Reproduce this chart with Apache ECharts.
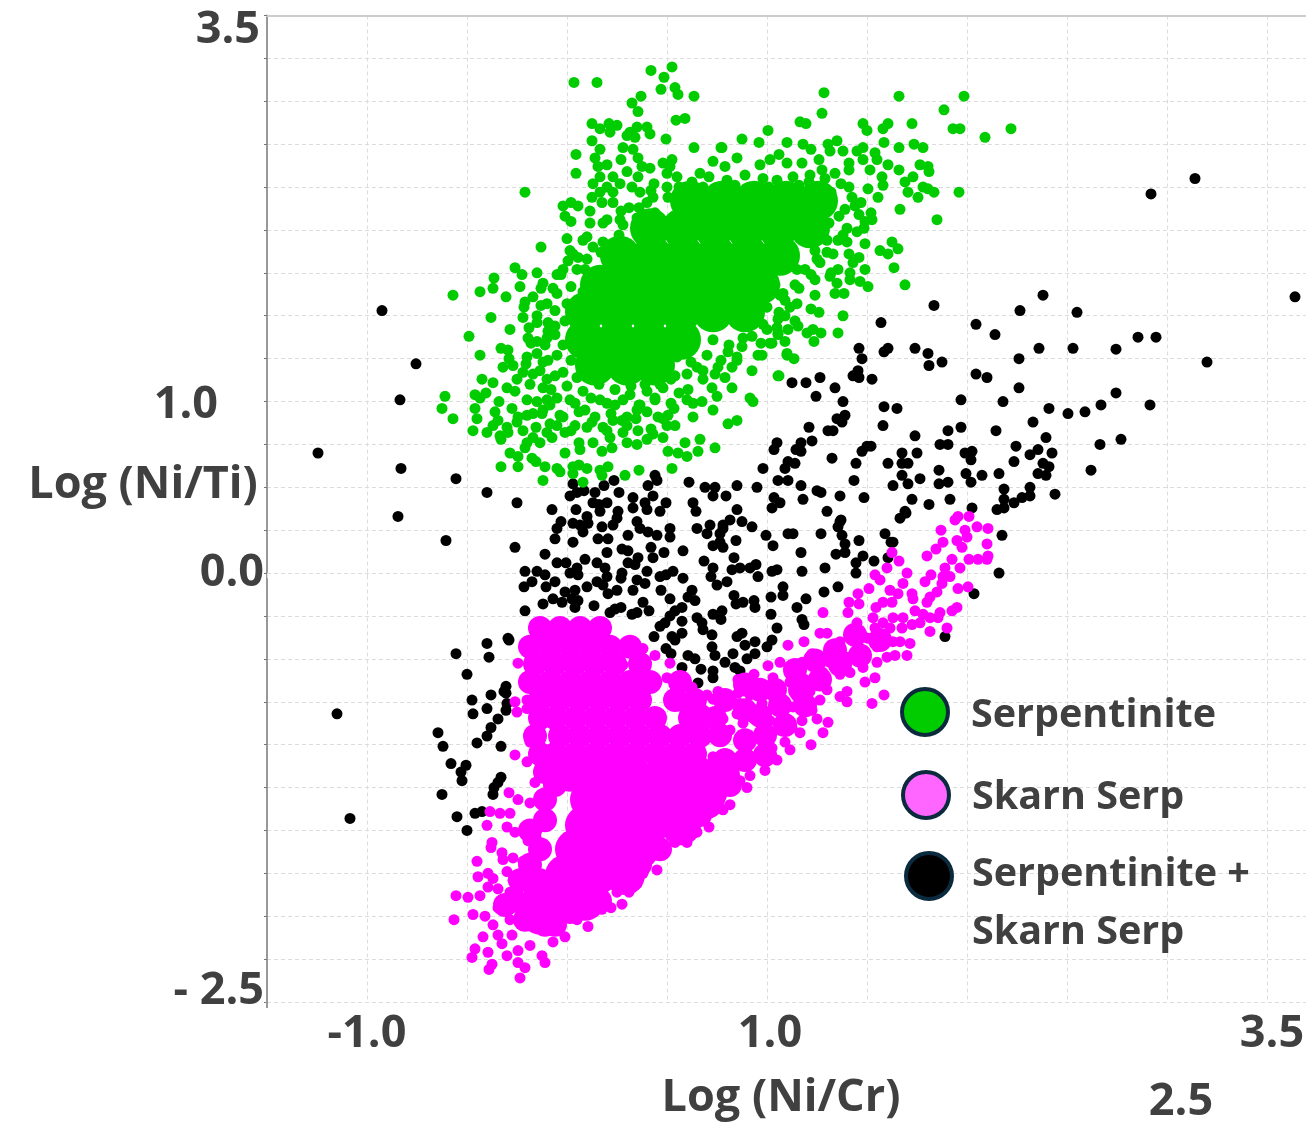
<!DOCTYPE html>
<html><head><meta charset="utf-8"><style>html,body{margin:0;padding:0;background:#fff}#c{width:1306px;height:1124px}</style>
<script src="https://cdn.jsdelivr.net/npm/echarts@6/dist/echarts.min.js"></script></head><body><div id="c"></div>
<script>
const xTickValues=[-1,1,3.5], xTickLabels=['-1.0','1.0','3.5'];
const yTickValues=[-2.5,0,1,3.25], yTickLabels=['- 2.5','0.0','1.0','3.5'];
const seriesNames=['Serpentinite','Skarn Serp','Serpentinite + Skarn Serp'];
const mixed=[[-.925,1.53],[-.755,1.22],[-.835,1.01],[-1.245,.7],[-.83,.61],[-.845,.33],[-.605,.19],[-.555,.55],[-.4,.47],[-1.15,-.82],[-1.085,-1.43],[2.92,2.21],[3.14,2.3],[3.64,1.61],[3.2,1.23],[2.855,1.375],[2.945,1.375],[2.915,.98],[2.745,1.305],[2.745,1.05],[2.67,.98],[2.59,.94],[2.62,.6],[2.665,.75],[2.77,.78],
[1.835,1.56],[2.38,1.62],[2.265,1.53],[2.55,1.52],[1.57,1.46],[2.045,1.45],[2.14,1.39],[1.46,1.31],[1.585,1.29],[1.605,1.31],[1.74,1.31],[1.805,1.28],[1.875,1.23],[1.81,1.21],[1.475,1.25],[1.455,1.18],[1.43,1.15],[1.46,1.14],[1.525,1.13],[2.36,1.31],[2.26,1.25],[2.53,1.31],[2.045,1.16],[2.1,1.14],[2.26,1.08],[1.125,1.11],[1.195,1.11],[1.265,1.14],[1.34,1.08],[1.245,1.03],[1.38,1],[1.585,.97],[1.65,.96],[1.97,1.01],[2.18,1],[2.41,.96],[2.505,.93],[2.33,.88],[2.145,.83],[1.39,.92],[1.35,.9],[1.375,.88],[1.21,.85],[1.58,.86],[1.305,.83],[1.33,.83],[1.97,.85],[1.905,.83],[1.74,.8],[2.395,.79],[1.05,.76],[1.035,.72],[1.225,.77],[1.17,.76],[1.145,.72],[1.17,.71],[1.52,.74],[1.5,.74],[1.475,.71],[1.865,.75],[1.905,.75],[2.245,.74],[2.355,.72],[2.425,.7],[2.315,.69],[1.675,.7],[1.75,.7],[1.99,.7],[2.025,.71],[2.02,.66],[1.325,.67],[1.445,.64],[1.605,.64],[1.675,.64],[1.705,.64],[2.235,.65],[2.38,.64],[2.41,.62],[1.105,.65],[1.14,.64],[1.09,.61],[.98,.61],[1.86,.6],[1.995,.58],[2.075,.57],[2.16,.58],[2.355,.58],[2.395,.57],[1.675,.57],[1.765,.55],[1.435,.54],[1.105,.54],[1.055,.54],[1.705,.52],[1.86,.52],[1.905,.53],[2.02,.53],[1.63,.51],[1.17,.51],[1.25,.48],[1.27,.47],[1.365,.45],[1.485,.44],[2.185,.49],[2.315,.5],[2.315,.45],[2.275,.44],[2.44,.46],[1.035,.44],[1.065,.41],[1.025,.38],[1.18,.43],[1.725,.43],[1.81,.4],[1.915,.43],[2.025,.38],[2.185,.43],[2.235,.41],[2.185,.38],[2.15,.37],[1.3,.36],[1.69,.36],[1.665,.32],[1.37,.31],
[.44,.57],[.45,.54],[.61,.53],[.235,.54],[.185,.51],[.03,.52],[.015,.45],[.05,.47],[.085,.48],[.14,.47],[.26,.47],[.33,.44],[.405,.51],[.43,.45],[.39,.41],[.69,.5],[.74,.5],[.73,.45],[.795,.45],[.85,.51],[.95,.5],[-.25,.41],[-.075,.37],[.045,.37],[.13,.41],[.16,.4],[.2,.41],[.165,.36],[.255,.36],[.33,.38],[.25,.32],[.4,.37],[.465,.36],[.495,.41],[.63,.41],[.645,.36],[.85,.37],[.815,.31],[.875,.3],[.925,.27],[.78,.28],[.715,.28],[.65,.26],[.7,.23],[.765,.23],[.78,.26],[.765,.18],[.73,.16],[.78,.15],[.845,.19],[.995,.22],[1.03,.16],[1.105,.23],[1.13,.23],[1.17,.12],[.1,.33],[.03,.29],[.065,.28],[.105,.29],[.08,.24],[-.03,.3],[-.05,.26],[-.06,.2],[.03,.18],[.175,.27],[.23,.28],[.305,.22],[.35,.3],[.365,.26],[.405,.24],[.45,.22],[.515,.26],[.515,.21],[.155,.2],[.205,.2],[.2,.12],[.275,.14],[.305,.13],[.42,.15],[.485,.12],[.43,.09],[.58,.13],[-.11,.11],[-.26,.15],[-.05,.06],[-.005,.06],[.09,.08],[.15,.06],[.19,.03],[.05,.03],[.015,0],[.055,-.01],[-.21,.01],[-.15,.01],[-.11,-.01],[-.175,-.05],[-.215,-.08],[-.105,-.08],[-.06,-.05],[.1,-.08],[.15,-.05],[.2,-.02],[.18,-.07],[.275,0],[.27,-.03],[.305,.06],[.355,.09],[.4,.01],[.34,.05],[.35,-.04],[.39,-.06],[.33,-.1],[.465,-.02],[.53,.01],[.495,-.01],[.58,-.03],[.47,-.1],[.625,-.1],[.515,-.15],[.605,-.14],[.64,-.16],[.685,.07],[.73,.03],[.72,-.02],[.75,-.07],[.8,-.05],[.825,.02],[.835,.09],[.865,.03],[.915,.03],[.945,.05],[.955,-.02],[1.025,.01],[1.05,.02],[1.175,.01],[1.08,-.08],[1.08,-.13],[1.02,-.14],[.835,-.13],[.845,-.18],[.88,-.17],[.935,-.16],[.94,-.2],[1.15,-.2],[1.195,-.15],[1.02,-.24],[1.175,-.27],[1.185,-.3],[1.05,-.32],[-.07,-.15],[-.01,-.11],[.04,-.1],[.025,-.15],[.055,-.16],[-.025,-.17],[.04,-.2],[-.12,-.18],[-.21,-.22],[.135,-.19],[.205,-.12],[.25,-.1],[.215,-.23],[.24,-.21],[.27,-.2],[.325,-.24],[.35,-.23],[.38,-.17],[.41,-.22],[.575,-.2],[.54,-.22],[.515,-.25],[.49,-.29],[.465,-.31],[.435,-.37],[.575,-.28],[.575,-.35],[.525,-.37],[.54,-.39],[.495,-.44],[.52,-.47],[.65,-.26],[.675,-.29],[.68,-.33],[.725,-.36],[.73,-.24],[.775,-.22],[.77,-.27],[.875,-.35],[.85,-.37],[.89,-.42],[.94,-.4],[.94,-.47],[1.025,-.39],[1,-.43],[.725,-.43],[.74,-.48],[.83,-.47],[.79,-.52],[.9,-.5],[.84,-.55],[.865,-.57],[.605,-.48],[.64,-.5],[.575,-.55],[.67,-.56],[.73,-.57],[.73,-.61],[.655,-.64],[-.295,-.38],[-.305,-.66],[-.305,-.7],
[-.555,-.47],[-.4,-.41],[-.29,-.39],[-.39,-.49],[-.5,-.59],[-.315,-.69],[-.38,-.71],[-.475,-.74],[-.4,-.79],[-.47,-.82],[-.3,-.76],[-.305,-.8],[-.345,-.85],[-.38,-.9],[-.4,-.95],[-.45,-.99],[-.33,-1.01],[-.645,-.93],[-.62,-1.01],[-.58,-1.11],[-.505,-1.12],[-.53,-1.16],[-.525,-1.21],[-.33,-1.19],[-.345,-1.22],[-.365,-1.25],[-.37,-1.29],[-.625,-1.29],[-.55,-1.42],[-.5,-1.5],[-.46,-1.4],[-.425,-1.39],
[1.365,.3],[1.355,.27],[1.375,.22],[1.39,.17],[1.39,.12],[1.345,.11],[1.46,.19],[1.445,.06],[1.48,.1],[1.535,.07],[1.445,0],[1.355,-.08],[1.285,-.11],[1.29,.03],[1.27,.23],[1.695,.35],[1.59,.23],[1.62,.18],[1.63,.18],[1.605,.09],[2.175,.22],[2.16,0],[2.035,-.12],[1.89,-.37]];
const serpentinite=[[.035,2.86],[.15,2.86],[.42,2.93],[.525,2.95],[.485,2.89],[.47,2.82],[.54,2.83],[.555,2.79],[.635,2.78],[.37,2.78],[.325,2.74],[.355,2.69],[.545,2.64],[.59,2.65],[.125,2.62],[.165,2.59],[.21,2.62],[.215,2.57],[.25,2.61],[.35,2.6],[.4,2.6],[.415,2.56],[.315,2.57],[.3,2.55],[.34,2.54],[.125,2.52],[.495,2.53],[.635,2.48],[.77,2.48],[.165,2.47],[.28,2.48],[.33,2.47],[.045,2.44],[.14,2.42],[.27,2.41],[.355,2.42],[.525,2.41],[.48,2.39],[.73,2.4],[.79,2.37],[.155,2.37],[.2,2.38],[.375,2.37],[.415,2.36],[.515,2.37],[.045,2.33],[.5,2.33],[.665,2.33],[.55,2.31],[.165,2.31],[.23,2.31],[.3,2.34],[.355,2.31],[.435,2.27],[.625,2.28],[.13,2.27],[.2,2.25],[.265,2.27],[.325,2.25],[.56,2.25],[-.21,2.22],[.365,2.22],[.165,2.22],[.23,2.22],[.125,2.19],[.43,2.19],[.505,2.19],[-.02,2.14],[.02,2.16],[.055,2.14],[.175,2.16],[.23,2.16],[.31,2.13],[.4,2.16],[.115,2.11],[-.01,2.08],[.02,2.05],[.115,2.04],[.18,2.04],[.265,2.06],[0,1.95],[-.13,1.9],[.08,1.94],[.13,1.9],[.015,1.88],[.055,1.84],[.005,1.82],[-.26,1.78],[-.15,1.75],[-.02,1.77],[.09,1.77],
[1.285,2.8],[1.66,2.78],[1.985,2.78],[1.275,2.68],[1.885,2.7],[1.005,2.58],[1.165,2.63],[1.195,2.62],[1.48,2.62],[1.5,2.58],[1.605,2.62],[1.58,2.59],[1.725,2.62],[1.93,2.59],[1.965,2.59],[2.09,2.54],[2.22,2.59],[.875,2.53],[.96,2.51],[1.1,2.51],[.775,2.48],[1.18,2.5],[1.22,2.47],[1.35,2.52],[1.305,2.5],[1.315,2.46],[1.38,2.46],[1.585,2.51],[1.66,2.48],[1.735,2.5],[1.78,2.48],[1.48,2.48],[1.45,2.46],[1.54,2.45],[1.06,2.44],[.85,2.42],[.965,2.38],[1.015,2.41],[1.1,2.39],[1.175,2.39],[1.26,2.41],[1.275,2.35],[1.41,2.39],[1.41,2.35],[1.48,2.41],[1.55,2.41],[1.605,2.38],[1.66,2.35],[1.765,2.38],[1.805,2.37],[1.81,2.34],[1.34,2.33],[1.515,2.35],[1.215,2.32],[1.73,2.31],[1.69,2.28],[1.575,2.31],[1.58,2.26],[1.505,2.24],[1.78,2.25],[1.805,2.24],[1.835,2.22],[1.705,2.22],[1.96,2.22],[1.555,2.19],[1.755,2.19],[1.425,2.19],[1.47,2.16],[1.665,2.12],[1.85,2.06],[1.46,2.09],[1.52,2.1],[1.525,2.06],[1.49,2.05],[1.4,2.01],[1.45,1.99],[1.485,2.01],[1.4,1.93],[1.49,1.92],[1.625,1.93],[1.655,1.89],[1.565,1.88],[1.605,1.86],[1.41,1.86],[1.46,1.84],[1.43,1.81],[1.635,1.78],[1.49,1.77],[1.32,1.75],[1.355,1.77],[1.315,1.73],[1.415,1.75],[1.69,1.68],[1.465,1.7],[1.505,1.67],[1.35,1.69],[1.34,1.63],[1.385,1.63],[1.415,1.71],[1.265,1.81],[1.3,1.87],[1.39,2.12],[1.355,1.94],[1.24,1.88],[1.19,1.77],[1.14,1.68],[1.24,1.71],[1.09,1.59],[1.04,1.68],
[-.57,1.62],[-.435,1.64],[-.37,1.66],[-.365,1.72],[-.305,1.61],[-.225,1.74],[-.235,1.67],[-.12,1.69],[-.21,1.58],[-.17,1.61],[-.215,1.55],[-.22,1.49],[-.38,1.49],[-.15,1.5],[-.1,1.57],[-.07,1.66],[-.05,1.74],[-.095,1.46],[-.095,1.41],[-.06,1.39],[-.285,1.42],[-.19,1.43],[-.195,1.37],[-.49,1.38],[-.15,1.35],[-.33,1.31],[-.295,1.3],[-.435,1.27],[-.29,1.25],[-.32,1.2],[-.27,1.21],[-.205,1.22],[-.15,1.28],[-.22,1.17],[-.425,1.13],[-.37,1.11],[-.25,1.13],[-.3,1.08],[-.26,1.06],[-.46,1.04],[-.405,1.05],[-.435,1.02],[-.61,1.03],[-.34,1],[-.12,1.08],[-.2,1.01],[-.625,.96],[-.46,.96],[-.57,.9],[-.36,.94],[-.275,.96],[-.45,.9],[-.345,.89],[-.245,.91],[-.17,.93],[-.125,.93],[-.1,1.01],[-.47,.83],[-.37,.86],[-.25,.88],[-.155,.85],[-.085,.87],[-.4,.82],[-.335,.8],[-.295,.82],[-.33,.78],[-.17,.79],[-.1,.82],[-.2,.76],[-.135,.76],[-.075,.79],[-.01,.82],[-.285,.7],[-.245,.68],[-.175,.67],[-.155,.65],[-.21,.73],[-.01,.7],[-.33,.62],[-.245,.62],[-.11,.62],[-.05,.61],[-.035,.59],[-.12,.54],[.03,.62],[.06,.63],[.1,.61],[.03,.58],[.08,.53],[.165,.6],[.205,.62],[.175,.57],[.29,.57],[.36,.6],[.525,.61],[.06,.76],[.065,.72],[.13,.76],[.175,.71],[.225,.73],[.215,.79],[.28,.82],[.3,.76],[.35,.75],[.4,.78],[.43,.81],[.48,.79],[.35,.95],[.345,.9],[.355,.83],[.275,.89],[.18,.85],[.125,.88],[.23,.89],[.455,.91],[.505,.92],[.535,.96],[.54,.86],[.505,.71],[.555,.7],[.6,.68],[.655,.71],[.59,.76],[.665,.78],[.74,.73],[.805,.87],[.85,.89],[.63,.91],[.73,.95],[.63,.99],[.675,1],[.915,1.02],[.93,1],[.825,1.08],[.75,1.03],[.725,1.08],[.605,1.07],[.79,1.14],[.68,1.18],[.65,1.2],[.755,1.2],[.825,1.2],[.925,1.18],[1.06,1.15],[.955,1.27],[.85,1.24],[.805,1.29],[.875,1.32],[1.015,1.34],[1.1,1.27],[.925,1.38],[1.055,1.39],
[.015,1.01],[.09,.95],[.165,1.01],[-.035,.92],[.04,.86],[.315,1.04],[.39,1.1],[.465,1.1],[.54,1.15],[.365,.98],[.44,1.01],[.24,.98],[-.06,1.15],[-.095,1.24],[-.11,1.33],[-.135,1.18],[-.185,1.1],[-.085,.98],
[1.38,1.5],[1.26,1.52],[1.355,1.4],[1.055,1.48],[1.155,1.44],[1.105,1.42],[1.2,1.4],[1.23,1.42],[1.27,1.4],[1.235,1.35],[1.09,1.35],[1.025,1.34],[1.055,1.4],[1.1,1.28],[1.135,1.25],[1.055,1.15],[.975,1.27],[1.065,1.62],[1.115,1.55],[1.09,1.5],[1,1.42],
[.71,2.31],[.8,2.29],[.89,2.32],[.98,2.3],[1.05,2.29],[1.13,2.31],[1.21,2.28],[1.29,2.3],[1.37,2.27],[.42,2.23],[.5,2.25],[.6,2.22],[.68,2.25],[.76,2.23],[.84,2.26],[.92,2.24],[1.01,2.25],[1.08,2.23],[1.16,2.26],[1.24,2.24],[1.32,2.22],[1.41,2.25],[.27,2.11],[.36,2.13],[.44,2.1],[1.36,2.08],[1.44,2.14],[.2,2.06],[.28,2.03],[.35,2.07],[1.31,2.04],[.1,1.96],[.18,1.93],[.26,1.97],[1.3,1.94],[1.38,1.97],[.03,1.86],[.1,1.83],[.17,1.87],[1.25,1.83],[1.33,1.86],[-.03,1.74],[.05,1.77],[.12,1.73],[.2,1.76],[1.15,1.77],[1.22,1.74],[-.13,1.66],[-.05,1.63],[.02,1.67],[.08,1.64],[1.08,1.63],[1.16,1.66],[1.24,1.62],[-.13,1.56],[-.06,1.53],[0,1.57],[1,1.55],[1.06,1.52],[1.15,1.57],[1.22,1.54],[-.15,1.46],[-.06,1.44],[-.01,1.47],[.98,1.45],[1.05,1.43],[1.14,1.47],[-.18,1.34],[-.1,1.37],[-.02,1.33],[.73,1.36],[.81,1.33],[.88,1.37],[.97,1.34],[-.2,1.26],[-.12,1.23],[-.05,1.27],[.02,1.24],[.55,1.26],[.62,1.23],[.7,1.27],[.77,1.24],[.85,1.26],[-.17,1.16],[-.1,1.13],[-.02,1.17],[.05,1.14],[.44,1.16],[.52,1.13],[.6,1.16],[.68,1.13],[.74,1.16],[-.08,1.07],[0,1.09],[.08,1.06],[.16,1.1],[.24,1.07],[.32,1.09],[.4,1.06],[.48,1.08],[.56,1.05],[-.15,1],[-.05,1.02],[.04,.99],[.12,1.02],[.2,.99],[.28,1.01],[.36,.98],[.44,1.02],[.52,.99],[.6,1.01],[-.2,.92],[-.12,.95],[-.02,.91],[.06,.94],[.14,.91],[.22,.93],[.3,.91],[.4,.94],[.48,.9],[-.3,.85],[-.22,.83],[-.05,.86],[.02,.83],[.1,.85],[.2,.83],[.3,.86],[.42,.84],[.5,.86]];
// Where the reference's dots overplot into a solid mass they cannot be read one by one;
// these estimated positions are drawn with larger symbols to stand for that overplotted mass.
const serpentiniteMass=[[.615,2.17],[.775,2.17],[.935,2.17],[1.095,2.17],[1.255,2.17],[.415,2.01],[.575,2.01],[.735,2.01],[.895,2.01],[1.055,2.01],[1.215,2.01],[.265,1.85],[.425,1.85],[.585,1.85],[.745,1.85],[.905,1.85],[1.065,1.85],[.165,1.68],[.325,1.68],[.485,1.68],[.645,1.68],[.805,1.68],[.965,1.68],[.09,1.52],[.25,1.52],[.41,1.52],[.57,1.52],[.73,1.52],[.89,1.52],[.09,1.36],[.25,1.36],[.41,1.36],[.57,1.36],[.14,1.21],[.3,1.21],[.44,1.21]];
const skarnMass=[[-.135,-1.99],[-.06,-1.91],[.09,-1.91],[-.01,-1.76],[.15,-1.76],[.29,-1.76],[.04,-1.61],[.2,-1.61],[.36,-1.61],[.09,-1.47],[.25,-1.47],[.41,-1.47],[.57,-1.47],[.115,-1.32],[.275,-1.32],[.435,-1.32],[.595,-1.32],[.69,-1.32],[.165,-1.18],[.325,-1.18],[.485,-1.18],[.645,-1.18],[.765,-1.18]];
const skarnDense=[[-.135,-.32],[-.035,-.32],[.065,-.32],[.165,-.32],[-.185,-.43],[-.085,-.43],[.015,-.43],[.115,-.43],[.215,-.43],[.315,-.43],[-.16,-.53],[-.06,-.53],[.04,-.53],[.14,-.53],[.24,-.53],[.365,-.53],[-.185,-.635],[-.085,-.635],[.015,-.635],[.115,-.635],[.215,-.635],[.315,-.635],[.415,-.635],[.565,-.635],[-.135,-.74],[-.035,-.74],[.065,-.74],[.165,-.74],[.265,-.74],[.365,-.74],[.54,-.74],[.64,-.74],[-.135,-.845],[-.06,-.845],[.04,-.845],[.14,-.845],[.24,-.845],[.34,-.845],[.44,-.845],[.615,-.845],[.74,-.845],[-.16,-.95],[-.035,-.95],[.065,-.95],[.165,-.95],[.265,-.95],[.365,-.95],[.465,-.95],[.565,-.95],[.665,-.95],[-.135,-1.055],[-.06,-1.055],[.04,-1.055],[.14,-1.055],[.24,-1.055],[.34,-1.055],[.44,-1.055],[.54,-1.055],[.64,-1.055],[-.11,-1.16],[-.01,-1.16],[.09,-1.16],
[.89,-.975],[.99,-.945],[1.09,-.885],[1.19,-.77],[.965,-.83],[1.065,-.77],[1.165,-.68],[1.265,-.62],[1.365,-.535],[1.465,-.48],[1.565,-.39],[1.14,-.565],[1.24,-.51],[1.34,-.45],[1.44,-.36],[1.04,-.68],[.89,-.8],[.79,-1.09],[.89,-1.09],[.99,-1.06],[.765,-.945],[.665,-.83],[.89,-.65],[.965,-.68],[.79,-.74],
[-.11,-1.32],[-.11,-1.44],[-.06,-1.235],[.015,-1.205],[-.185,-1.5],[-.135,-1.61],[-.185,-1.7],[-.235,-1.79],[-.135,-1.79],[-.16,-1.88],[-.26,-1.91],[-.21,-2.02],[-.31,-1.935],[-.11,-2.05],[-.06,-2.05],[.015,-1.975],[.165,-1.91],[.265,-1.79],[.365,-1.7],[.465,-1.61],[.565,-1.5],[.665,-1.41],[.74,-1.29],[.815,-1.235]];
const skarnSerp=[[-.245,-.525],[-.26,-.75],[-.25,-.81],[-.2,-.74],[-.2,-.79],[-.185,-.985],[-.155,-.955],[-.26,-1.06],[-.2,-1.1],[-.16,-1.22],[-.29,-1.28],[-.385,-1.39],[-.335,-1.4],[-.245,-1.32],[-.285,-1.4],[-.185,-1.34],[-.4,-1.47],[-.3,-1.48],[-.26,-1.51],[-.2,-1.48],[-.135,-1.48],[-.375,-1.57],[-.38,-1.6],[-.325,-1.63],[-.195,-1.56],[-.155,-1.54],[-.32,-1.67],[-.27,-1.66],[-.22,-1.68],[-.45,-1.68],[-.445,-1.77],[-.395,-1.75],[-.37,-1.78],[-.3,-1.74],[-.395,-1.83],[-.345,-1.84],[-.27,-1.79],[-.555,-1.88],[-.495,-1.89],[-.435,-1.88],[-.47,-1.99],[-.565,-2.02],[-.41,-2],[-.345,-1.95],[-.285,-1.86],[-.235,-1.92],[-.37,-2.05],[-.285,-2.02],[-.42,-2.12],[-.345,-2.11],[-.275,-2.11],[-.46,-2.19],[-.475,-2.24],[-.395,-2.21],[-.325,-2.16],[-.375,-2.28],[-.39,-2.31],[-.3,-2.23],[-.245,-2.2],[-.185,-2.17],[-.245,-2.27],[-.21,-2.3],[-.235,-2.36],[-.125,-2.23],[-.11,-2.27],[-.01,-2.12],[-.07,-2.15],[.105,-2.06],[.05,-2.02],[.175,-1.96],[.22,-1.95],[.275,-1.93],[.31,-1.86],[.25,-1.86],[.35,-1.81],[.45,-1.73],[.38,-1.75],[.6,-1.57],[.54,-1.57],[.65,-1.51],[.71,-1.48],[.78,-1.38],[.815,-1.35],[.9,-1.25],[.865,-1.21],[.68,-1.42],[.515,-.525],[.565,-.635],[.625,-.665],[.7,-.71],[.755,-.69],[.73,-.735],[.855,-.62],[.855,-.7],[.78,-.85],[.675,-.83],[.59,-.8],[.5,-.61],[.45,-.635],[.44,-.48],[.38,-.44],[.28,-.535],[.55,-.76],[.605,-.84],[.73,-.86],[.85,-.82],[.88,-.875],[.815,-.915],[.9,-.955],[.78,-.975],[.65,-.93],[.55,-1.12],[.615,-1.06],[.73,-1.07],[.815,-1.165],[.75,-1.265],
[1.625,.12],[1.66,.07],[1.6,.03],[1.54,-.01],[1.565,-.04],[1.7,0],[1.955,.33],[1.94,.31],[2.01,.33],[1.87,.25],[1.99,.25],[2.05,.27],[2.105,.26],[2,.21],[1.95,.19],[1.88,.18],[2.1,.17],[1.975,.15],[1.845,.14],[1.8,.1],[2.105,.1],[2.055,.08],[2.01,.08],[2.1,.08],[1.925,.08],[1.89,.03],[1.965,.03],[1.82,-.01],[1.79,-.05],[1.88,-.02],[1.915,-.02],[1.875,-.06],[1.955,-.09],[2.005,-.08],[1.68,-.06],[1.655,-.12],[1.615,-.1],[1.725,-.12],[1.73,-.15],[1.85,-.11],[1.815,-.14],[1.8,-.17],[1.51,-.09],[1.455,-.12],[1.41,-.17],[1.46,-.18],[1.405,-.23],[1.625,-.17],[1.58,-.17],[1.545,-.2],[1.95,-.2],[1.925,-.22],[1.865,-.23],[1.74,-.22],[1.78,-.24],[1.28,-.23],[1.45,-.29],[1.53,-.26],[1.58,-.29],[1.63,-.26],[1.68,-.26],[1.815,-.26],[1.855,-.26],[1.765,-.29],[1.725,-.3],[1.9,-.32],[1.815,-.34],[1.675,-.32],[1.615,-.32],[1.54,-.32],[1.475,-.36],[1.265,-.35],[1.3,-.35],[1.185,-.4],[1.105,-.42],[1.365,-.4],[1.33,-.45],[1.45,-.4],[1.505,-.38],[1.55,-.38],[1.63,-.4],[1.665,-.4],[1.715,-.41],[1.64,-.48],[1.7,-.48],[1.55,-.43],[1.48,-.46],[1.225,-.47],[1.6,-.49],[1.48,-.51],[1.55,-.52],[1.405,-.49],[1.315,-.52],[1.255,-.55],[1.175,-.52],[1.125,-.55],[1.065,-.52],[1.005,-.54],[.935,-.59],[1.03,-.61],[1.115,-.635],[1.19,-.62],[1.28,-.58],[1.365,-.59],[1.48,-.55],[1.54,-.61],[1.49,-.635],[1.415,-.58],[1.065,-.67],[1.015,-.7],[.915,-.71],[.905,-.65],[1.215,-.69],[1.3,-.68],[1.4,-.69],[1.365,-.72],[1.265,-.74],[1.15,-.72],[1.4,-.75],[1.585,-.71],[1.525,-.76],[1.225,-.8],[1.13,-.78],[.975,-.76],[1.03,-.79],[1.08,-.82],[.865,-.76],[1.25,-.85],[1.305,-.87],[1.28,-.93],[1.175,-.86],[1.165,-.93],[1.125,-.9],[1.015,-.86],[.93,-.845],[.98,-.915],[1.065,-.915],[1.22,-1],[1.115,-1.03],[1.025,-1.02],[1.09,-.985],[.915,-.975],[.9,-1.05],[.955,-1.07],[1.05,-1.09],[.99,-1.15],[.915,-1.18]];

const ink='#404040', FONT='"Open Sans", sans-serif', GREEN='#00cc00', MAG='#ff00ff';
const tickText=(vals,labs)=>v=>{const i=vals.findIndex(t=>Math.abs(t-v)<1e-6);return i<0?'':labs[i];};
const yFmt=tickText(yTickValues,yTickLabels), xFmt=tickText(xTickValues,xTickLabels);
const lab={fontFamily:FONT,fontWeight:700,fontSize:45,color:ink};
const dots=(name,data,color,size,z)=>({type:'scatter',name,data,symbolSize:size,z,itemStyle:{color,opacity:1},animation:false,silent:true});
const txt=(x,y,text)=>({type:'text',left:x,top:y-27,z:50,style:{text,fontFamily:FONT,fontWeight:700,fontSize:39.5,fill:ink,lineHeight:60}});
const big=(cx,cy,text)=>({type:'text',x:cx,y:cy,z:50,style:{text,fontFamily:FONT,fontWeight:700,fontSize:45,fill:ink,align:'center',verticalAlign:'middle'}});
const circ=(x,y,fill)=>({type:'circle',z:50,shape:{cx:x,cy:y,r:23},style:{fill,stroke:'#0c2a3e',lineWidth:4}});
const chart=echarts.init(document.getElementById('c'),null,{renderer:'canvas'});
const gridLine={show:true,lineStyle:{color:'#dcdcdc',type:[4,3],width:1}};
chart.setOption({animation:false,backgroundColor:'#fff',
grid:{left:267,top:15.5,right:0,bottom:122,containLabel:false,outerBoundsMode:'none'},
xAxis:[{type:'value',min:-1.5,max:3.695,interval:.5,axisLine:{show:false},axisTick:{show:true,length:5,lineStyle:{color:'#dcdcdc'}},splitLine:gridLine,
 axisLabel:{show:true,interval:0,hideOverlap:false,showMinLabel:true,showMaxLabel:false,margin:10,...lab,formatter:v=>{const s=xFmt(v);return v===1?'{a|'+s+'}':v===3.5?'{b|'+s+'}':s;},rich:{a:{...lab,padding:[0,0,0,6]},b:{...lab,padding:[0,0,0,10]}}}},
 {type:'value',position:'top',min:-1.5,max:3.695,interval:.5,axisLine:{show:true,onZero:false,lineStyle:{color:'#cccccc',width:2}},axisTick:{show:false},axisLabel:{show:false},splitLine:{show:false}}],
yAxis:{type:'value',min:-2.5,max:3.25,interval:.25,axisLine:{show:true,onZero:false,lineStyle:{color:'#999',width:2}},axisTick:{show:true,length:3,lineStyle:{color:'#777'}},splitLine:gridLine,
 axisLabel:{show:true,interval:0,margin:3,...lab,showMinLabel:true,showMaxLabel:true,formatter:v=>{const s=yFmt(v);return v===3.25?'{t|'+s+'}':v===-2.5?'{b|'+s+'}':v===1?'{o|'+s+'}':s;},rich:{t:{...lab,padding:[30,4,0,0]},b:{...lab,padding:[0,0,22,0]},o:{...lab,padding:[8,46,0,0]}}}},
series:[dots(seriesNames[2],mixed,'#000',11,2),dots(seriesNames[0],serpentinite,GREEN,11,3),dots(seriesNames[0],serpentiniteMass,GREEN,40,3),dots(seriesNames[1],skarnSerp,MAG,11,4),dots(seriesNames[1],skarnDense,MAG,24,4),dots(seriesNames[1],skarnMass,MAG,40,4)],
graphic:[circ(925,712,'#00cc00'),circ(926,795,'#ff66ff'),circ(929,876,'#000000'),txt(971,713,seriesNames[0]),txt(972,795,seriesNames[1]),txt(972,872,'Serpentinite +'),txt(972,930,'Skarn Serp'),
 big(1181,1102,'2.5'),big(781,1098,'Log (Ni/Cr)'),big(143,485,'Log (Ni/Ti)'),
 {type:'line',z:1,shape:{x1:267,y1:1002,x2:267,y2:1008},style:{stroke:'#999',lineWidth:2}}]
});
</script></body></html>
